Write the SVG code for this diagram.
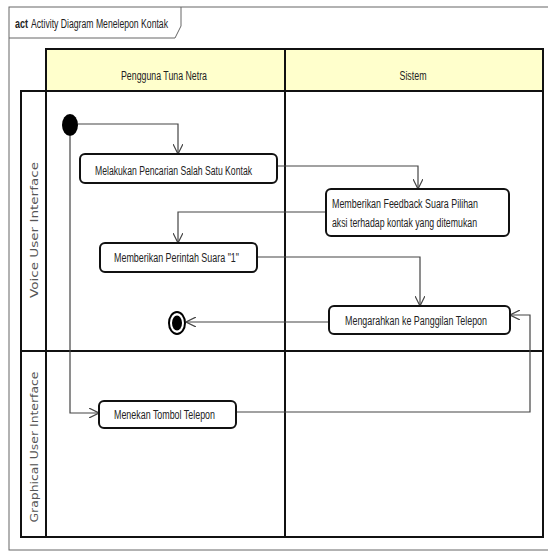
<svg xmlns="http://www.w3.org/2000/svg" width="548" height="552" viewBox="0 0 548 552">
<style>
.lbl{font-family:"Liberation Sans",Arial,sans-serif;font-size:12px;fill:#222}
.lane{font-family:"DejaVu Sans",Verdana,sans-serif;font-size:11px;fill:#555}
.act{fill:#fff;stroke:#111;stroke-width:2}
.grid{stroke:#111;stroke-width:2;fill:none}
.con{fill:none;stroke:#444;stroke-width:1.2}
</style>
<defs>
<marker id="arr" viewBox="0 0 10 10" refX="10" refY="5" markerWidth="10" markerHeight="10" markerUnits="userSpaceOnUse" orient="auto">
<path d="M0,0 L10,5 L0,10" fill="none" stroke="#444" stroke-width="1.2"/>
</marker>
</defs>
<rect width="548" height="552" fill="#fff"/>
<g id="frame">
<rect x="9" y="7" width="560" height="543" fill="none" stroke="#666" stroke-width="1"/>
<path d="M9,38 L175,38 L181,26 L181,7" fill="none" stroke="#666" stroke-width="1"/>
<text x="15" y="28" class="lbl" font-size="11" font-weight="bold" textLength="13" lengthAdjust="spacingAndGlyphs">act</text>
<text x="31" y="28" class="lbl" font-size="11" textLength="137" lengthAdjust="spacingAndGlyphs">Activity Diagram Menelepon Kontak</text>
</g>
<g id="swimlanes">
<rect x="46" y="49" width="497" height="42" fill="#ffffcc"/>
<rect x="21" y="91" width="522" height="446" class="grid"/>
<path d="M46,49 L543,49 L543,91 L46,91 Z" class="grid"/>
<path d="M46,49 V537 M285,49 V537 M21,351 H543" class="grid"/>
<text x="164" y="80" class="lbl" text-anchor="middle" textLength="86" lengthAdjust="spacingAndGlyphs">Pengguna Tuna Netra</text>
<text x="413" y="80" class="lbl" text-anchor="middle" textLength="27" lengthAdjust="spacingAndGlyphs">Sistem</text>
<text transform="translate(38,230) rotate(-90)" class="lane" text-anchor="middle" textLength="136" lengthAdjust="spacingAndGlyphs">Voice User Interface</text>
<text transform="translate(38,447) rotate(-90)" class="lane" text-anchor="middle" textLength="151" lengthAdjust="spacingAndGlyphs">Graphical User Interface</text>
</g>
<g id="connectors">
<path class="con" d="M78,124 H178 V154" marker-end="url(#arr)"/>
<path class="con" d="M277,166 H418 V189" marker-end="url(#arr)"/>
<path class="con" d="M326,212 H178 V243" marker-end="url(#arr)"/>
<path class="con" d="M257,257 H420 V306" marker-end="url(#arr)"/>
<path class="con" d="M329,322 H186" marker-end="url(#arr)"/>
<path class="con" d="M70,136 V413 H99" marker-end="url(#arr)"/>
<path class="con" d="M236,412 H530 V315 H510" marker-end="url(#arr)"/>
</g>
<g id="initial">
<ellipse cx="70" cy="125" rx="8" ry="11" fill="#000"/>
</g>
<g id="final">
<ellipse cx="177" cy="323" rx="8" ry="11" fill="#fff" stroke="#000" stroke-width="2"/>
<ellipse cx="177" cy="323" rx="5" ry="7.5" fill="#000"/>
</g>
<g id="n1">
<rect x="80" y="154" width="197" height="29" rx="5" class="act"/>
<text x="95" y="175" class="lbl" textLength="157" lengthAdjust="spacingAndGlyphs">Melakukan Pencarian Salah Satu Kontak</text>
</g>
<g id="n2">
<rect x="326" y="189" width="183" height="47" rx="5" class="act"/>
<text x="332" y="208" class="lbl" textLength="146" lengthAdjust="spacingAndGlyphs">Memberikan Feedback Suara Pilihan</text>
<text x="332" y="227" class="lbl" textLength="145" lengthAdjust="spacingAndGlyphs">aksi terhadap kontak yang ditemukan</text>
</g>
<g id="n3">
<rect x="100" y="243" width="157" height="29" rx="5" class="act"/>
<text x="114" y="262" class="lbl" textLength="125" lengthAdjust="spacingAndGlyphs">Memberikan Perintah Suara "1"</text>
</g>
<g id="n4">
<rect x="329" y="306" width="181" height="28" rx="5" class="act"/>
<text x="345" y="325" class="lbl" textLength="142" lengthAdjust="spacingAndGlyphs">Mengarahkan  ke Panggilan Telepon</text>
</g>
<g id="n5">
<rect x="99" y="401" width="137" height="27" rx="5" class="act"/>
<text x="114" y="419" class="lbl" textLength="101" lengthAdjust="spacingAndGlyphs">Menekan Tombol Telepon</text>
</g>
</svg>
